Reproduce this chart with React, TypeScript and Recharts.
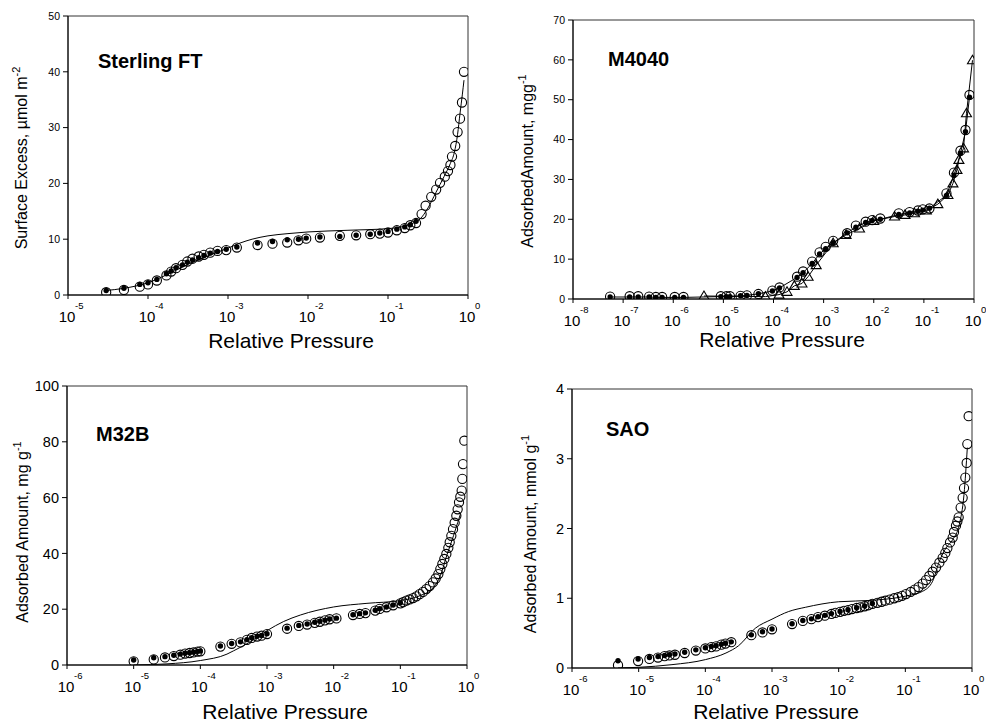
import { ScatterChart, Scatter, XAxis, YAxis, ReferenceArea } from "recharts"

type Pt = [number, number]

const FONT = '"Liberation Sans", Arial, Helvetica, sans-serif'

// Sterling FT: surface excess vs relative pressure
const sterlingOpen: Pt[] = [
  [3.0e-5, 0.5], [5.0e-5, 0.9], [7.9e-5, 1.5], [1.0e-4, 1.9], [1.29e-4, 2.6],
  [1.7e-4, 3.5], [1.95e-4, 4.2], [2.24e-4, 4.8], [2.7e-4, 5.4], [3.1e-4, 6.0],
  [3.6e-4, 6.5], [4.3e-4, 6.9], [5.0e-4, 7.2], [6.0e-4, 7.6], [7.4e-4, 7.9],
  [9.5e-4, 8.05], [1.29e-3, 8.5], [2.34e-3, 8.95], [3.6e-3, 9.2], [5.5e-3, 9.4],
  [7.6e-3, 9.8], [9.5e-3, 10.1], [1.41e-2, 10.3], [2.5e-2, 10.6], [4.0e-2, 10.7],
  [6.0e-2, 10.9], [7.9e-2, 11.0], [0.1, 11.2], [0.129, 11.6], [0.162, 12.0],
  [0.19, 12.5], [0.224, 12.9], [0.263, 14.5], [0.295, 16.0], [0.347, 17.6],
  [0.4, 18.9], [0.447, 20.1], [0.513, 21.2], [0.562, 22.2], [0.603, 23.3],
  [0.631, 24.8], [0.692, 26.7], [0.741, 29.2], [0.794, 31.6], [0.841, 34.5],
  [0.891, 40.0],
]
const sterlingFilled: Pt[] = [
  [3.0e-5, 0.8], [5.0e-5, 1.2], [7.9e-5, 1.9], [1.0e-4, 2.2], [1.29e-4, 2.8],
  [1.7e-4, 3.8], [1.95e-4, 4.3], [2.24e-4, 4.9], [2.7e-4, 5.4], [3.1e-4, 5.9],
  [3.6e-4, 6.3], [4.3e-4, 6.7], [5.0e-4, 7.1], [6.0e-4, 7.5], [7.4e-4, 7.8],
  [9.5e-4, 8.2], [1.29e-3, 8.6], [2.34e-3, 9.3], [3.6e-3, 9.6], [5.5e-3, 9.9],
  [7.6e-3, 10.0], [9.5e-3, 10.2], [1.41e-2, 10.4], [2.5e-2, 10.5], [4.0e-2, 10.7],
  [6.0e-2, 10.9], [7.9e-2, 11.1], [0.1, 11.4], [0.129, 11.8], [0.162, 12.2],
  [0.19, 12.6], [0.224, 13.2],
]
const sterlingModel: Pt[] = [
  [2.95e-5, 0.8], [5.0e-5, 1.2], [1.0e-4, 2.2], [1.7e-4, 3.6], [3.16e-4, 5.5],
  [4.47e-4, 6.4], [6.31e-4, 7.3], [1.0e-3, 8.4], [1.41e-3, 9.3], [2.0e-3, 10.0],
  [3.16e-3, 10.6], [5.62e-3, 11.0], [1.0e-2, 11.3], [3.16e-2, 11.6], [0.1, 11.9],
  [0.158, 12.3], [0.2, 12.8], [0.251, 13.6], [0.316, 15.6], [0.398, 18.4],
  [0.501, 21.2], [0.603, 23.6], [0.676, 25.6], [0.741, 28.8], [0.794, 32.5],
  [0.851, 36.0], [0.891, 38.5],
]

// M4040: adsorbed amount, two runs plus triangles
const m4040Open: Pt[] = [
  [5.5e-8, 0.6], [1.35e-7, 0.7], [2.0e-7, 0.7], [3.3e-7, 0.6], [4.5e-7, 0.5],
  [6.0e-7, 0.5], [1.07e-6, 0.5], [1.6e-6, 0.5], [8.9e-6, 0.7], [1.15e-5, 0.7],
  [1.35e-5, 0.7], [2.2e-5, 0.8], [2.95e-5, 0.9], [5.0e-5, 1.25], [9.5e-5, 2.1],
  [1.32e-4, 2.9], [2.95e-4, 5.6], [3.9e-4, 6.9], [5.9e-4, 9.4], [8.3e-4, 11.7],
  [1.1e-3, 13.1], [1.55e-3, 14.6], [2.95e-3, 16.5], [4.4e-3, 18.4], [6.9e-3, 19.4],
  [9.3e-3, 19.8], [1.35e-2, 20.2], [3.16e-2, 21.5], [5.2e-2, 21.8], [7.6e-2, 22.2],
  [9.5e-2, 22.5], [0.129, 22.7], [0.282, 26.5], [0.398, 31.7], [0.537, 37.2],
  [0.676, 42.4], [0.813, 51.2],
]
const m4040Filled: Pt[] = [
  [5.5e-8, 0.5], [1.35e-7, 0.5], [2.0e-7, 0.5], [3.3e-7, 0.5], [4.5e-7, 0.4],
  [6.0e-7, 0.4], [1.07e-6, 0.4], [1.6e-6, 0.4], [8.9e-6, 0.6], [1.15e-5, 0.6],
  [1.35e-5, 0.6], [2.2e-5, 0.8], [2.95e-5, 0.9], [5.0e-5, 1.3], [9.5e-5, 2.0],
  [1.32e-4, 2.8], [2.95e-4, 5.4], [3.9e-4, 6.6], [5.9e-4, 8.9], [8.3e-4, 11.3],
  [1.1e-3, 12.6], [1.55e-3, 14.1], [2.95e-3, 16.6], [4.4e-3, 18.0], [6.9e-3, 19.2],
  [9.3e-3, 19.7], [1.35e-2, 20.0], [3.16e-2, 21.2], [5.2e-2, 21.6], [7.6e-2, 22.0],
  [9.5e-2, 22.3], [0.129, 22.8], [0.282, 26.0], [0.398, 31.0], [0.537, 36.5],
  [0.676, 42.0], [0.813, 50.6],
]
const m4040Triangles: Pt[] = [
  [4.1e-6, 0.75], [6.9e-5, 0.6], [1.29e-4, 1.1], [1.86e-4, 1.8], [2.6e-4, 3.3],
  [3.7e-4, 3.9], [4.9e-4, 5.6], [7.1e-4, 8.5], [1.55e-3, 14.0], [2.8e-3, 16.1],
  [5.2e-3, 17.7], [1.0e-2, 19.6], [2.6e-2, 20.7], [4.2e-2, 21.1], [6.5e-2, 21.5],
  [0.112, 22.2], [0.19, 23.8], [0.302, 26.1], [0.38, 29.0], [0.457, 32.4],
  [0.5, 34.9], [0.617, 37.8], [0.708, 46.6], [0.933, 59.9],
]

// M32B
const m32bOpen: Pt[] = [
  [1.0e-5, 1.3], [2.0e-5, 2.0], [2.95e-5, 2.7], [4.0e-5, 3.2], [5.0e-5, 3.7],
  [5.9e-5, 4.1], [6.9e-5, 4.3], [7.9e-5, 4.5], [9.1e-5, 4.8], [1.0e-4, 4.9],
  [2.0e-4, 6.6], [2.95e-4, 7.6], [4.0e-4, 8.1], [5.0e-4, 9.0], [5.9e-4, 9.7],
  [7.1e-4, 10.2], [8.3e-4, 10.5], [1.0e-3, 11.1], [2.0e-3, 13.0], [3.0e-3, 14.0],
  [4.0e-3, 14.5], [5.2e-3, 15.1], [6.2e-3, 15.5], [7.4e-3, 16.0], [8.7e-3, 16.4],
  [1.1e-2, 16.7], [1.95e-2, 17.9], [2.45e-2, 18.3], [3.0e-2, 18.6], [4.2e-2, 19.5],
  [4.9e-2, 20.1], [6.2e-2, 20.7], [7.8e-2, 21.4], [0.1, 22.1], [0.11, 22.5],
  [0.123, 23.1], [0.138, 23.5], [0.155, 24.0], [0.174, 24.6], [0.195, 25.4],
  [0.219, 26.2], [0.245, 27.2], [0.275, 28.3], [0.309, 29.6], [0.339, 31.0],
  [0.372, 32.6], [0.398, 34.4], [0.427, 36.2], [0.457, 38.0], [0.49, 39.8],
  [0.525, 42.0], [0.55, 44.0], [0.582, 46.3], [0.617, 48.7], [0.653, 51.0],
  [0.692, 53.5], [0.724, 55.8], [0.759, 58.3], [0.794, 60.3], [0.832, 62.5],
  [0.851, 66.7], [0.871, 72.0], [0.912, 80.4],
]
const m32bFilled: Pt[] = [
  [1.0e-5, 1.8], [2.0e-5, 2.6], [2.95e-5, 3.0], [4.0e-5, 3.5], [5.0e-5, 3.9],
  [5.9e-5, 4.2], [6.9e-5, 4.4], [7.9e-5, 4.6], [9.1e-5, 4.9], [1.0e-4, 5.0],
  [2.0e-4, 6.8], [2.95e-4, 7.7], [4.0e-4, 8.3], [5.0e-4, 9.1], [5.9e-4, 9.8],
  [7.1e-4, 10.3], [8.3e-4, 10.6], [1.0e-3, 11.2], [2.0e-3, 13.2], [3.0e-3, 14.2],
  [4.0e-3, 14.7], [5.2e-3, 15.3], [6.2e-3, 15.7], [7.4e-3, 16.1], [8.7e-3, 16.5],
  [1.1e-2, 16.8], [1.95e-2, 18.0], [2.45e-2, 18.4], [3.0e-2, 18.7], [4.2e-2, 19.6],
  [4.9e-2, 20.2], [6.2e-2, 20.8], [7.8e-2, 21.5], [0.1, 22.2],
]
const m32bModel: Pt[] = [
  [1.0e-5, 0.0], [3.16e-5, 0.4], [1.0e-4, 1.6], [2.51e-4, 3.9], [3.16e-4, 5.1],
  [5.62e-4, 8.3], [1.0e-3, 12.3], [1.78e-3, 15.6], [3.16e-3, 17.9], [1.0e-2, 20.8],
  [3.16e-2, 22.1], [0.1, 23.1], [0.2, 24.9], [0.316, 27.8], [0.398, 32.0],
  [0.501, 39.5], [0.631, 46.5], [0.724, 51.0], [0.794, 54.0],
]

// SAO
const saoOpen: Pt[] = [
  [4.9e-6, 0.04], [9.8e-6, 0.10], [1.45e-5, 0.13], [1.95e-5, 0.15], [2.45e-5, 0.17],
  [2.9e-5, 0.18], [3.5e-5, 0.19], [4.9e-5, 0.215], [7.2e-5, 0.25], [1.0e-4, 0.28],
  [1.23e-4, 0.30], [1.45e-4, 0.31], [1.74e-4, 0.335], [2.0e-4, 0.35], [2.45e-4, 0.37],
  [4.9e-4, 0.47], [7.2e-4, 0.51], [1.0e-3, 0.555], [2.0e-3, 0.63], [2.9e-3, 0.675],
  [3.9e-3, 0.70], [4.9e-3, 0.73], [6.2e-3, 0.75], [7.8e-3, 0.775], [8.9e-3, 0.79],
  [1.05e-2, 0.805], [1.2e-2, 0.82], [1.38e-2, 0.83], [1.58e-2, 0.845], [1.86e-2, 0.86],
  [2.1e-2, 0.87], [2.45e-2, 0.885], [2.8e-2, 0.90], [3.2e-2, 0.92], [3.8e-2, 0.935],
  [4.4e-2, 0.95], [5.0e-2, 0.965], [5.8e-2, 0.98], [6.8e-2, 1.0], [7.8e-2, 1.015],
  [8.9e-2, 1.035], [0.102, 1.06], [0.12, 1.09], [0.138, 1.125], [0.158, 1.16],
  [0.182, 1.21], [0.204, 1.26], [0.229, 1.32], [0.257, 1.38], [0.288, 1.44],
  [0.324, 1.51], [0.363, 1.58], [0.398, 1.65], [0.427, 1.72], [0.468, 1.80],
  [0.513, 1.87], [0.537, 1.95], [0.575, 2.04], [0.603, 2.10], [0.631, 2.16],
  [0.676, 2.30], [0.724, 2.44], [0.759, 2.58], [0.794, 2.73], [0.832, 2.94],
  [0.851, 3.21], [0.891, 3.61],
]
const saoFilled: Pt[] = [
  [4.9e-6, 0.105], [9.8e-6, 0.13], [1.45e-5, 0.15], [1.95e-5, 0.165], [2.45e-5, 0.18],
  [2.9e-5, 0.19], [3.5e-5, 0.20], [4.9e-5, 0.225], [7.2e-5, 0.26], [1.0e-4, 0.29],
  [1.23e-4, 0.31], [1.45e-4, 0.32], [1.74e-4, 0.34], [2.0e-4, 0.355], [2.45e-4, 0.375],
  [4.9e-4, 0.475], [7.2e-4, 0.52], [1.0e-3, 0.56], [2.0e-3, 0.635], [2.9e-3, 0.68],
  [3.9e-3, 0.705], [4.9e-3, 0.735], [6.2e-3, 0.755], [7.8e-3, 0.78], [1.05e-2, 0.81],
  [1.38e-2, 0.835], [1.86e-2, 0.865], [2.45e-2, 0.89], [3.2e-2, 0.925],
]
const saoModel: Pt[] = [
  [4.9e-6, 0.0], [1.0e-5, 0.01], [3.16e-5, 0.048], [1.0e-4, 0.12], [2.04e-4, 0.215],
  [3.16e-4, 0.32], [5.62e-4, 0.57], [1.0e-3, 0.70], [1.78e-3, 0.81], [3.16e-3, 0.87],
  [1.0e-2, 0.95], [3.16e-2, 0.97], [0.1, 1.03], [0.182, 1.10], [0.257, 1.245],
  [0.324, 1.53], [0.407, 1.72], [0.513, 1.84], [0.646, 2.06], [0.759, 2.49],
  [0.851, 3.16],
]

const xy = (rows: Pt[]) => rows.map(([x, y]) => ({ x, y }))

function PowTick({ x, y, payload }: any) {
  const exp = Math.round(Math.log10(payload.value))
  return (
    <g>
      <text x={x - 1} y={y + 21} textAnchor="middle" fontSize={15} fill="#000">10</text>
      <text x={x + 7} y={y + 8} fontSize={9.5} fill="#000">{exp}</text>
    </g>
  )
}

const ring = (p: any) => <circle cx={p.cx} cy={p.cy} r={4.6} fill="none" stroke="#000" strokeWidth={1.1} />
const dot = (p: any) => <circle cx={p.cx} cy={p.cy} r={2.7} fill="#000" />
const tri = (p: any) => (
  <path
    d={`M${p.cx},${p.cy - 5}L${p.cx + 5},${p.cy + 3.5}L${p.cx - 5},${p.cy + 3.5}Z`}
    fill="none"
    stroke="#000"
    strokeWidth={1.1}
  />
)
const blank = () => <g />

function Panel({ left, top, w, h, margin, xDomain, xTicks, yDomain, yTicks, yFont, xHeight, children }: any) {
  return (
    <div style={{ position: "absolute", left, top }}>
      <ScatterChart width={w} height={h} margin={margin}>
        <XAxis
          type="number"
          dataKey="x"
          scale="log"
          domain={xDomain}
          ticks={xTicks}
          allowDataOverflow
          interval={0}
          tick={<PowTick />}
          tickSize={4}
          height={xHeight}
          stroke="#000"
        />
        <YAxis
          type="number"
          dataKey="y"
          domain={yDomain}
          ticks={yTicks}
          allowDataOverflow
          interval={0}
          width={60}
          tickSize={5}
          tickMargin={3}
          tick={{ fontSize: yFont, fill: "#000" }}
          stroke="#000"
        />
        <ReferenceArea
          x1={xDomain[0]}
          x2={xDomain[1]}
          y1={yDomain[0]}
          y2={yDomain[1]}
          fill="none"
          stroke="#333"
          strokeWidth={1}
          ifOverflow="visible"
        />
        {children}
      </ScatterChart>
    </div>
  )
}

const lineStyle = { stroke: "#000", strokeWidth: 1 }

function YTitle({ x, y, text, sup }: { x: number; y: number; text: string; sup: string }) {
  return (
    <text x={x} y={y} transform={`rotate(-90 ${x} ${y})`} textAnchor="middle" fontSize={16} fill="#000">
      {text}
      <tspan fontSize={11} dy={-7}>{sup}</tspan>
    </text>
  )
}

export default function App() {
  return (
    <div style={{ position: "absolute", left: 0, top: 0, width: 986, height: 722, background: "#fff", fontFamily: FONT, overflow: "hidden" }}>
      <Panel
        left={0} top={0} w={493} h={361}
        margin={{ top: 16, right: 25, left: 8, bottom: 0 }}
        xDomain={[1e-5, 1]} xTicks={[1e-5, 1e-4, 1e-3, 1e-2, 1e-1, 1]}
        yDomain={[0, 50]} yTicks={[0, 10, 20, 30, 40, 50]} yFont={10.5} xHeight={66}
      >
        <Scatter data={xy(sterlingOpen)} shape={ring} isAnimationActive={false} />
        <Scatter data={xy(sterlingModel)} shape={blank} line={lineStyle} lineJointType="monotoneX" isAnimationActive={false} />
        <Scatter data={xy(sterlingFilled)} shape={dot} isAnimationActive={false} />
      </Panel>

      <Panel
        left={493} top={0} w={493} h={361}
        margin={{ top: 20, right: 12, left: 20, bottom: 0 }}
        xDomain={[1e-8, 1]} xTicks={[1e-8, 1e-7, 1e-6, 1e-5, 1e-4, 1e-3, 1e-2, 1e-1, 1]}
        yDomain={[0, 70]} yTicks={[0, 10, 20, 30, 40, 50, 60, 70]} yFont={10.5} xHeight={62}
      >
        <Scatter data={xy(m4040Open)} shape={ring} isAnimationActive={false} />
        <Scatter data={xy(m4040Triangles)} shape={tri} line={lineStyle} lineJointType="linear" isAnimationActive={false} />
        <Scatter data={xy(m4040Filled)} shape={dot} line={lineStyle} lineJointType="linear" isAnimationActive={false} />
      </Panel>

      <Panel
        left={0} top={361} w={493} h={361}
        margin={{ top: 25, right: 26, left: 7, bottom: 0 }}
        xDomain={[1e-6, 1]} xTicks={[1e-6, 1e-5, 1e-4, 1e-3, 1e-2, 1e-1, 1]}
        yDomain={[0, 100]} yTicks={[0, 20, 40, 60, 80, 100]} yFont={14.5} xHeight={57}
      >
        <Scatter data={xy(m32bOpen)} shape={ring} isAnimationActive={false} />
        <Scatter data={xy(m32bModel)} shape={blank} line={lineStyle} lineJointType="monotoneX" isAnimationActive={false} />
        <Scatter data={xy(m32bFilled)} shape={dot} isAnimationActive={false} />
      </Panel>

      <Panel
        left={493} top={361} w={493} h={361}
        margin={{ top: 28, right: 14, left: 19, bottom: 0 }}
        xDomain={[1e-6, 1]} xTicks={[1e-6, 1e-5, 1e-4, 1e-3, 1e-2, 1e-1, 1]}
        yDomain={[0, 4]} yTicks={[0, 1, 2, 3, 4]} yFont={14.5} xHeight={54}
      >
        <Scatter data={xy(saoOpen)} shape={ring} isAnimationActive={false} />
        <Scatter data={xy(saoModel)} shape={blank} line={lineStyle} lineJointType="monotoneX" isAnimationActive={false} />
        <Scatter data={xy(saoFilled)} shape={dot} isAnimationActive={false} />
      </Panel>

      <svg width={986} height={722} style={{ position: "absolute", left: 0, top: 0, pointerEvents: "none" }} fontFamily={FONT}>
        <text x={98} y={68} fontSize={20} fontWeight="bold">Sterling FT</text>
        <text x={608} y={66} fontSize={20} fontWeight="bold">M4040</text>
        <text x={96} y={441} fontSize={20} fontWeight="bold">M32B</text>
        <text x={606} y={436} fontSize={20} fontWeight="bold">SAO</text>

        <text x={291} y={348} fontSize={21} textAnchor="middle">Relative Pressure</text>
        <text x={782} y={347} fontSize={21} textAnchor="middle">Relative Pressure</text>
        <text x={285} y={719} fontSize={21} textAnchor="middle">Relative Pressure</text>
        <text x={776} y={719} fontSize={21} textAnchor="middle">Relative Pressure</text>

        <YTitle x={27} y={158} text="Surface Excess, µmol m" sup="-2" />
        <YTitle x={533} y={161} text="AdsorbedAmount, mgg" sup="-1" />
        <YTitle x={28} y={532} text="Adsorbed Amount, mg g" sup="-1" />
        <YTitle x={536} y={534} text="Adsorbed Amount, mmol g" sup="-1" />
      </svg>
    </div>
  )
}
